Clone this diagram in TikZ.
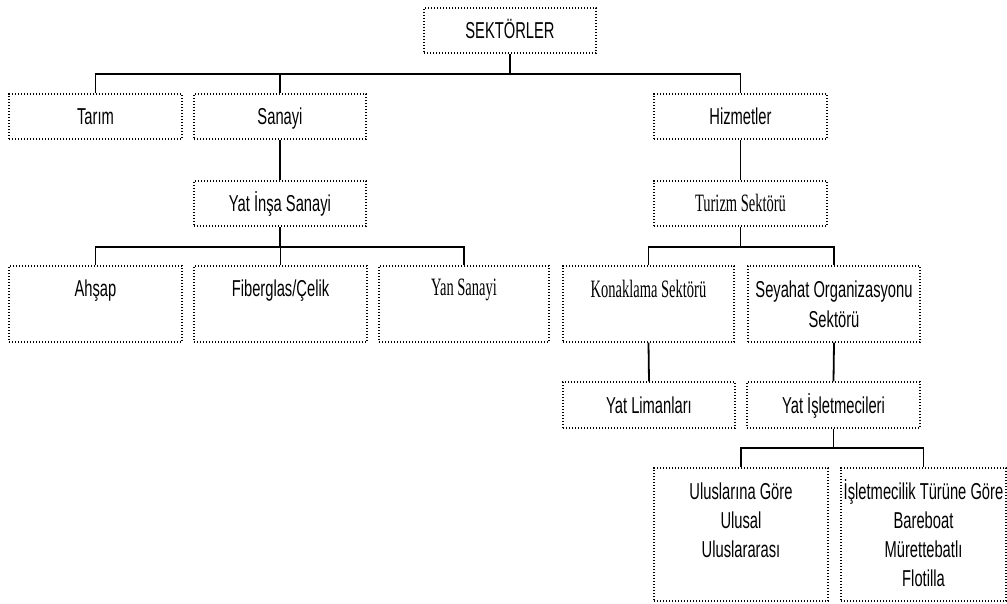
\documentclass[tikz,border=0pt]{standalone}
\usepackage{fontspec}
\newfontfamily\narrowsans[FakeStretch=0.64]{Liberation Sans}
\newfontfamily\narrowserif[FakeStretch=0.58]{Liberation Serif}
\begin{document}
\begin{tikzpicture}[x=1pt,y=-1pt,
  box/.style={draw=black, line width=1.2pt, dash pattern=on 1.2pt off 1.8pt, rectangle, inner sep=0pt},
  conn/.style={draw=black, line width=1.8pt},
  stxt/.style={font=\narrowsans\fontsize{23pt}{29.3pt}\selectfont, inner sep=0pt, align=center},
  rtxt/.style={font=\narrowserif\fontsize{25pt}{29.3pt}\selectfont, inner sep=0pt, align=center},
  one/.style={text height=16.5pt, text depth=0pt}]
\useasboundingbox (0,0) rectangle (1007,604);
% level 0
\node[box, stxt, one, minimum width=172pt, minimum height=45pt] (sek) at (510,30.5) {SEKTÖRLER};
% level 1
\node[box, stxt, one, minimum width=173pt, minimum height=45pt] (tarim) at (95.5,116.5) {Tarım};
\node[box, stxt, one, minimum width=172pt, minimum height=45pt] (sanayi) at (280,116.5) {Sanayi};
\node[box, stxt, one, minimum width=173pt, minimum height=45pt] (hizmet) at (740.5,116.5) {Hizmetler};
% level 2
\node[box, stxt, one, minimum width=172pt, minimum height=45pt] (yatinsa) at (280,203.5) {Yat İnşa Sanayi};
\node[box, rtxt, text height=16.5pt, text depth=0pt, minimum width=173pt, minimum height=45pt] (turizm) at (740.5,203.5) {Turizm Sektörü};
% level 3
\node[box, minimum width=173pt, minimum height=76pt] (ahsap) at (95.5,304) {};
\node[box, minimum width=173pt, minimum height=76pt] (fiber) at (280.5,304) {};
\node[box, minimum width=170pt, minimum height=76pt] (yansan) at (464,304) {};
\node[box, minimum width=171pt, minimum height=76pt] (konak) at (648.5,304) {};
\node[box, minimum width=172pt, minimum height=76pt] (seyahat) at (834,304) {};
\node[stxt, anchor=base] (ahsapt) at (95.5,296) {Ahşap};
\node[stxt, anchor=base] (fibert) at (280.5,296) {Fiberglas/Çelik};
\node[rtxt, anchor=base] (yansant) at (464,295) {Yan Sanayi};
\node[rtxt, anchor=base] (konakt) at (648.5,298) {Konaklama Sektörü};
\node[stxt, anchor=base] (seyahatt) at (834,327.3) {Seyahat Organizasyonu\\Sektörü};
% level 4
\node[box, stxt, one, minimum width=172pt, minimum height=46pt] (yatlim) at (649,405) {Yat Limanları};
\node[box, stxt, one, minimum width=173pt, minimum height=46pt] (yatisl) at (833.5,405) {Yat İşletmecileri};
% level 5
\node[box, minimum width=174pt, minimum height=133pt] (ulus) at (741,534.5) {};
\node[box, minimum width=165pt, minimum height=133pt] (islet) at (923.5,534.5) {};
\node[stxt, anchor=base] (ulust) at (741,557.6) {Uluslarına Göre\\Ulusal\\Uluslararası};
\node[stxt, anchor=base] (isltt) at (923.5,586.9) {İşletmecilik Türüne Göre\\Bareboat\\Mürettebatlı\\Flotilla};
% connectors
\draw[conn] (sek.south) -- (sek.south |- 0,74);
\draw[conn] (tarim.north) |- (hizmet.north |- 0,74) -- (hizmet.north);
\draw[conn] (sanayi.north) -- (sanayi.north |- 0,74);
\draw[conn] (sanayi.south) -- (yatinsa.north);
\draw[conn] (hizmet.south) -- (turizm.north);
\draw[conn] (yatinsa.south) -- (yatinsa.south |- 0,247);
\draw[conn] (ahsap.north) |- (yansan.north |- 0,247) -- (yansan.north);
\draw[conn] (fiber.north) -- (fiber.north |- 0,247);
\draw[conn] (turizm.south) -- (turizm.south |- 0,247);
\draw[conn] (konak.north) |- (seyahat.north |- 0,247) -- (seyahat.north);
\draw[conn] (konak.south) -- (yatlim.north);
\draw[conn] (seyahat.south) -- (yatisl.north);
\draw[conn] (yatisl.south) -- (yatisl.south |- 0,448);
\draw[conn] (ulus.north) |- (islet.north |- 0,448) -- (islet.north);
\end{tikzpicture}
\end{document}
